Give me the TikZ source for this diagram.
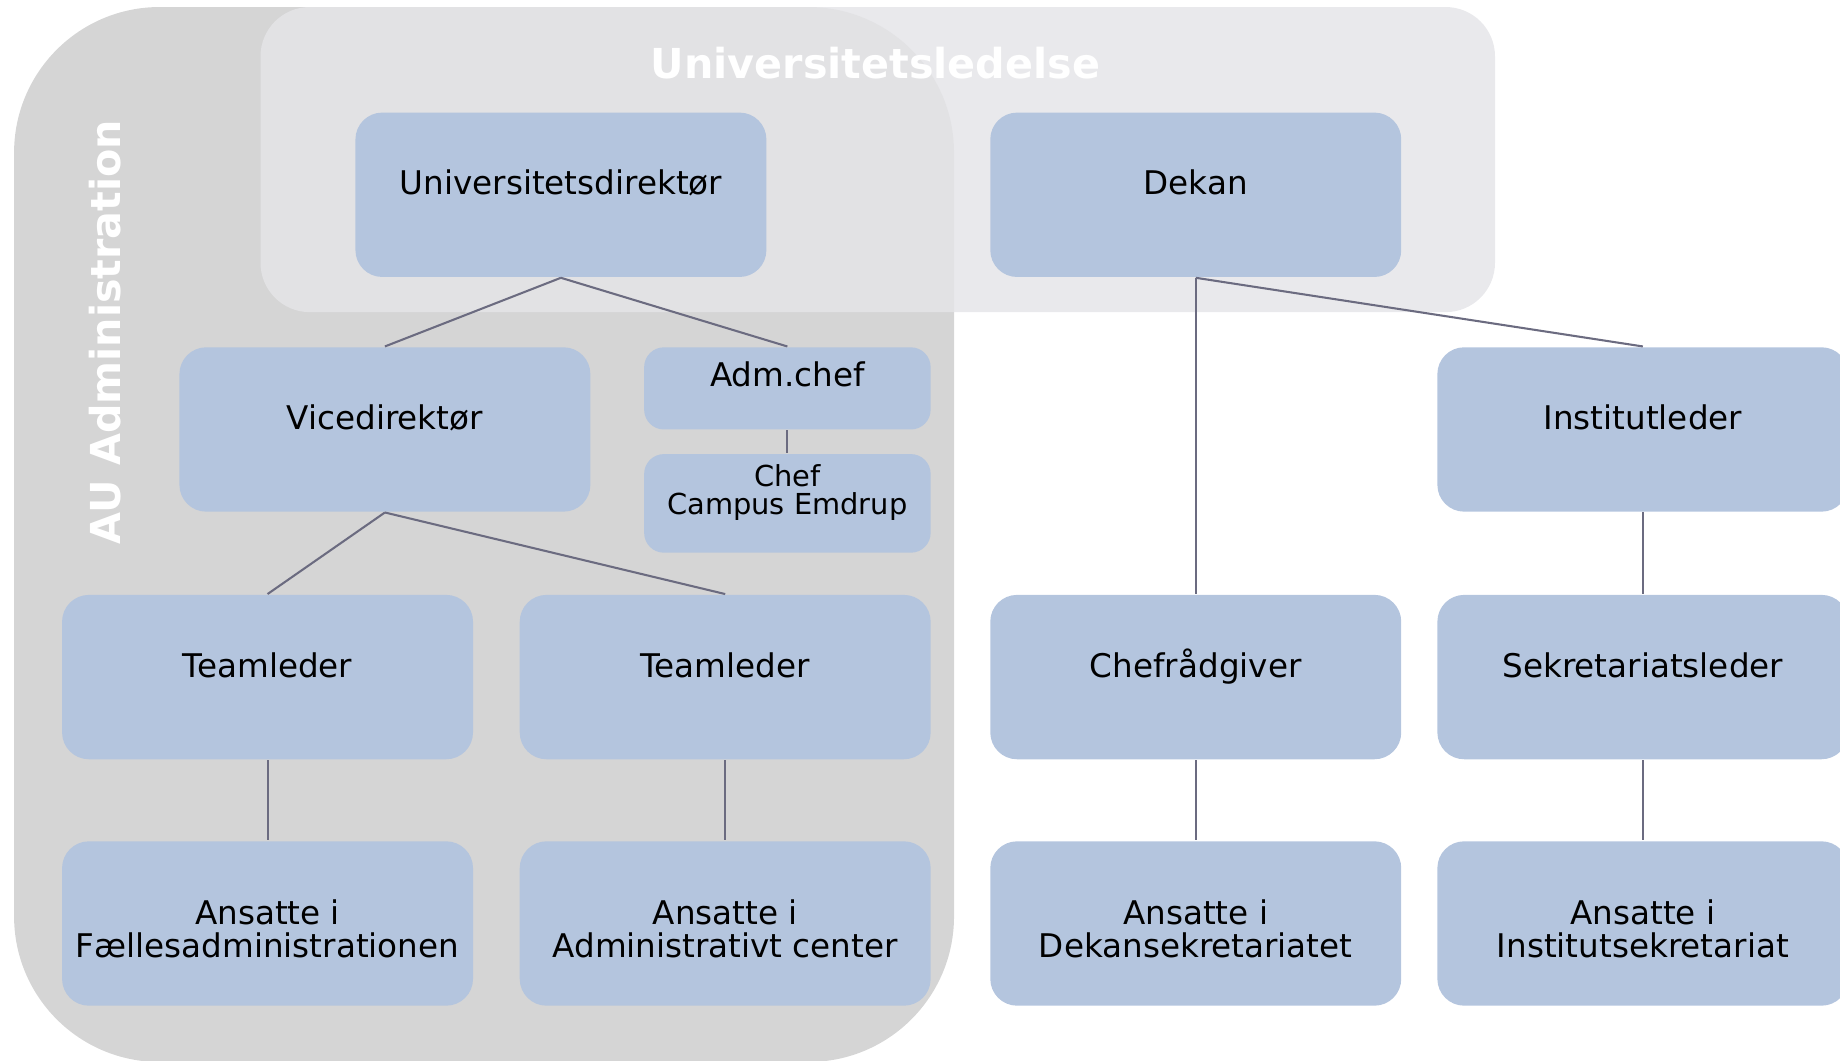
\documentclass[tikz,border=0pt]{standalone}
\usepackage{fontspec}
\setmainfont{DejaVu Sans}
\usepackage{tikz}
\usetikzlibrary{calc,shapes}

\definecolor{kasseblaa}{RGB}{180,197,222}
\definecolor{augraa}{RGB}{213,213,213}
\definecolor{ledelsegraa}{RGB}{229,229,232}
\definecolor{stregfarve}{RGB}{107,107,128}

\begin{document}
\begin{tikzpicture}[x=0.01cm, y=-0.01cm,
		kasse/.style={fill=kasseblaa, rounded corners=6.5pt, minimum width=3.5cm, minimum height=1.4cm, inner sep=0pt, align=center, font=\fontsize{7.9}{8.1}\selectfont},
		stilling/.style={kasse, text height=6pt, text depth=6pt},
		ansatte/.style={kasse, text height=17pt, text depth=0.5pt},
		lille/.style={kasse, rounded corners=4.8pt, minimum width=2.44cm},
		streg/.style={stregfarve, line width=0.5pt},
		overskrift/.style={white, font=\fontsize{10}{12}\selectfont\bfseries, anchor=base}]
		
		\useasboundingbox (0,0) rectangle (1568,904);
		\clip (0,0) rectangle (1568,904);
		
		
		\fill[augraa, rounded corners=1.24cm] (12,6) rectangle (813,905);
		\fill[ledelsegraa, opacity=0.83, rounded corners=0.42cm] (222,6) rectangle (1274,266);
		
		\node[overskrift] (ledelse) at (746,67) {Universitetsledelse};
		\node[overskrift, rotate=90] (auadm) at (103,283) {AU Administration};
		
		
		\node[stilling] (udir) at (478,166) {Universitetsdirektør};
		\node[stilling] (dekan) at (1019,166) {Dekan};
		
		\node[stilling] (vdir) at (328,366) {Vicedirektør};
		\node[lille, minimum height=0.7cm, text height=6pt, text depth=7.1pt] (adm) at (671,331) {Adm.chef};
		\node[lille, minimum height=0.84cm, font=\fontsize{7}{6.8}\selectfont, text depth=6.8pt] (chef) at (671,429) {Chef\\Campus Emdrup};
		\node[stilling] (inst) at (1400,366) {Institutleder};
		
		\node[stilling] (team1) at (228,577) {Teamleder};
		\node[stilling] (team2) at (618,577) {Teamleder};
		\node[stilling] (chefr) at (1019,577) {Chefrådgiver};
		\node[stilling] (sekr) at (1400,577) {Sekretariatsleder};
		
		\node[ansatte] (ans1) at (228,787) {Ansatte i\\Fællesadministrationen};
		\node[ansatte] (ans2) at (618,787) {Ansatte i\\Administrativt center};
		\node[ansatte] (ans3) at (1019,787) {Ansatte i\\Dekansekretariatet};
		\node[ansatte] (ans4) at (1400,787) {Ansatte i\\Institutsekretariat};
		
		
		\draw[streg] (udir.south) -- (vdir.north);
		\draw[streg] (udir.south) -- (adm.north);
		\draw[streg] (adm.south) -- (chef.north);
		\draw[streg] (vdir.south) -- (team1.north);
		\draw[streg] (vdir.south) -- (team2.north);
		\draw[streg] (team1.south) -- (ans1.north);
		\draw[streg] (team2.south) -- (ans2.north);
		
		\draw[streg] (dekan.south) -- (chefr.north);
		\draw[streg] (dekan.south) -- (inst.north);
		\draw[streg] (inst.south) -- (sekr.north);
		\draw[streg] (chefr.south) -- (ans3.north);
		\draw[streg] (sekr.south) -- (ans4.north);
		
	\end{tikzpicture}
\end{document}
